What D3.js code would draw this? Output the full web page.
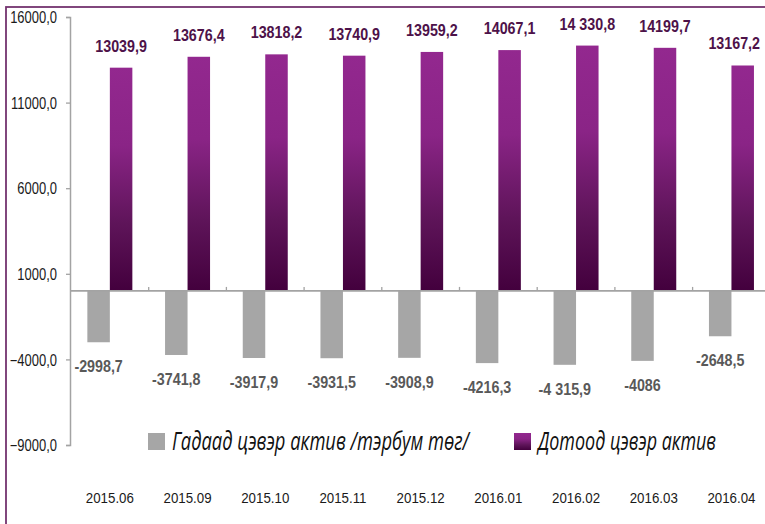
<!DOCTYPE html>
<html>
<head>
<meta charset="utf-8">
<script src="https://cdn.jsdelivr.net/npm/d3@7"></script>
<style>
  body { margin: 0; background: #fff; }
  svg { display: block; }
</style>
</head>
<body>
<svg id="chart" width="765" height="524"></svg>
<script>
// data
const categories = ["2015.06", "2015.09", "2015.10", "2015.11", "2015.12", "2016.01", "2016.02", "2016.03", "2016.04"];
const externalAssets = [-2998.7, -3741.8, -3917.9, -3931.5, -3908.9, -4216.3, -4315.9, -4086, -2648.5];
const externalLabels = ["-2998,7", "-3741,8", "-3917,9", "-3931,5", "-3908,9", "-4216,3", "-4 315,9", "-4086", "-2648,5"];
const domesticAssets = [13039.9, 13676.4, 13818.2, 13740.9, 13959.2, 14067.1, 14330.8, 14199.7, 13167.2];
const domesticLabels = ["13039,9", "13676,4", "13818,2", "13740,9", "13959,2", "14067,1", "14 330,8", "14199,7", "13167,2"];
const yTicks = [-9000, -4000, 1000, 6000, 11000, 16000];
const seriesNames = ["Гадаад цэвэр актив /тэрбум төг/", "Дотоод цэвэр актив"];

const svg = d3.select("#chart");

// squeeze a text horizontally, the fonts here have no narrow cut
function narrow(sel, factor) {
    sel.each(function() {
        let w = this.getComputedTextLength();
        d3.select(this).attr("textLength", w * factor).attr("lengthAdjust", "spacingAndGlyphs");
    });
}

// purple frame round the chart
svg.append("rect")
    .attr("x", 6).attr("y", 7)
    .attr("width", 800).attr("height", 560)
    .attr("fill", "none")
    .attr("stroke", "#74336f")
    .attr("stroke-width", 1.8);

const y = d3.scaleLinear().domain([-9000, 16000]).range([445, 17]);
const x0 = d3.scaleBand().domain(categories).range([71, 71 + 9 * 77.7]);
const x1 = d3.scaleBand().domain(["ext", "dom"]).range([-22.5, 22.5]);
const barX = (key, i) => x0(categories[i]) + x0.bandwidth() / 2 + x1(key);

const defs = svg.append("defs");
const grad = defs.append("linearGradient")
    .attr("id", "purpleGrad")
    .attr("x1", 0).attr("y1", 0).attr("x2", 0).attr("y2", 1);
grad.append("stop").attr("offset", "0%").attr("stop-color", "#93288f");
grad.append("stop").attr("offset", "35%").attr("stop-color", "#8a2486");
grad.append("stop").attr("offset", "70%").attr("stop-color", "#5e1459");
grad.append("stop").attr("offset", "100%").attr("stop-color", "#43003d");

const gridColor = "#a3a3a3";

// y axis
const yAxis = svg.append("g")
    .attr("transform", "translate(70,0)")
    .call(d3.axisLeft(y).tickValues(yTicks).tickSize(4).tickPadding(9)
        .tickFormat(d => d3.format(".1f")(d).replace(".", ",")));
yAxis.select(".domain").attr("stroke", gridColor).attr("stroke-width", 1.5);
yAxis.selectAll(".tick line").attr("stroke", gridColor).attr("stroke-width", 1.3);
yAxis.selectAll(".tick text")
    .attr("fill", "#1a1a1a")
    .attr("dy", "0.36em")
    .style("font-family", "'Liberation Sans', Arial, sans-serif")
    .style("font-size", "16px")
    .call(narrow, 0.81);

const chart = svg.append("g");

// grey bars (external)
chart.selectAll(".ext")
    .data(externalAssets)
    .join("rect")
    .attr("class", "ext")
    .attr("x", (d, i) => barX("ext", i))
    .attr("width", x1.bandwidth())
    .attr("y", y(0))
    .attr("height", d => y(d) - y(0))
    .attr("fill", "#a6a6a6");

// purple bars (domestic)
chart.selectAll(".dom")
    .data(domesticAssets)
    .join("rect")
    .attr("class", "dom")
    .attr("x", (d, i) => barX("dom", i))
    .attr("width", x1.bandwidth())
    .attr("y", d => y(d))
    .attr("height", d => y(0) - y(d))
    .attr("fill", "url(#purpleGrad)");

// zero line with category ticks pointing up
const xAxis = svg.append("g")
    .attr("transform", "translate(0," + y(0) + ")");
xAxis.append("line")
    .attr("x1", 70).attr("x2", 780)
    .attr("stroke", gridColor).attr("stroke-width", 1.6);
xAxis.selectAll(".ctick")
    .data(categories.slice(1))
    .join("line")
    .attr("class", "ctick")
    .attr("x1", d => x0(d)).attr("x2", d => x0(d))
    .attr("y1", 0).attr("y2", -4)
    .attr("stroke", gridColor).attr("stroke-width", 1.3);

const labelFont = "'Liberation Sans', Arial, sans-serif";

chart.selectAll(".domLabel")
    .data(domesticAssets)
    .join("text")
    .attr("class", "domLabel")
    .attr("x", (d, i) => barX("dom", i) + x1.bandwidth() / 2)
    .attr("y", d => y(d) - 16)
    .attr("text-anchor", "middle")
    .attr("fill", "#4d1249")
    .style("font-family", labelFont)
    .style("font-weight", "bold")
    .style("font-size", "17px")
    .text((d, i) => domesticLabels[i])
    .call(narrow, 0.84);

// keep the last label inside the picture, as the reference does
chart.selectAll(".domLabel").each(function() {
    let t = d3.select(this);
    let half = +t.attr("textLength") / 2;
    let cx = +t.attr("x");
    if (cx + half > 760) t.attr("x", 760 - half);
});

chart.selectAll(".extLabel")
    .data(externalAssets)
    .join("text")
    .attr("class", "extLabel")
    .attr("x", (d, i) => barX("ext", i) + x1.bandwidth() / 2)
    .attr("y", d => y(d) + 30)
    .attr("text-anchor", "middle")
    .attr("fill", "#595959")
    .style("font-family", labelFont)
    .style("font-weight", "bold")
    .style("font-size", "17px")
    .text((d, i) => externalLabels[i])
    .call(narrow, 0.84);

// category labels at the bottom
svg.selectAll(".catLabel")
    .data(categories)
    .join("text")
    .attr("class", "catLabel")
    .attr("x", d => x0(d) + x0.bandwidth() / 2)
    .attr("y", 503)
    .attr("text-anchor", "middle")
    .attr("fill", "#1a1a1a")
    .style("font-family", "'Liberation Sans', Arial, sans-serif")
    .style("font-size", "14px")
    .text(d => d)
    .call(narrow, 0.95);

// legend
const legend = svg.append("g");
const legendItems = [
  {name: seriesNames[0], fill: "#a6a6a6", x: 148, textX: 172, w: 297},
  {name: seriesNames[1], fill: "url(#purpleGrad)", x: 514, textX: 538, w: 178}
];
legendItems.forEach(it => {
  legend.append("rect")
      .attr("x", it.x).attr("y", 433)
      .attr("width", 17).attr("height", 17)
      .attr("fill", it.fill);
  legend.append("text")
      .attr("x", it.textX).attr("y", 450)
      .attr("fill", "#111")
      .attr("textLength", it.w)
      .attr("lengthAdjust", "spacingAndGlyphs")
      .style("font-family", "'Open Sans', 'DejaVu Sans', sans-serif")
      .style("font-style", "italic")
      .style("font-weight", 400)
      .style("font-size", "26px")
      .text(it.name);
});
</script>
</body>
</html>
